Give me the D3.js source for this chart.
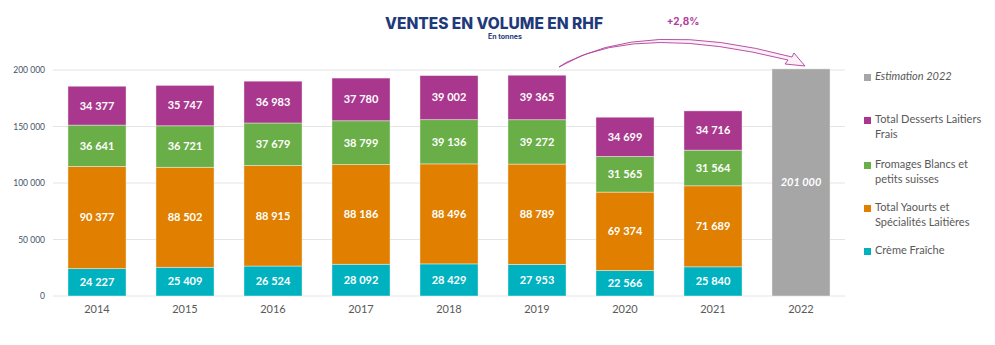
<!DOCTYPE html>
<html>
<head>
<meta charset="utf-8">
<script src="https://cdn.jsdelivr.net/npm/d3@7"></script>
<style>
  body { margin: 0; background: #fff; }
  text { font-family: Lato, "Open Sans", sans-serif; }
</style>
</head>
<body>
<script>
// data
var years = ["2014", "2015", "2016", "2017", "2018", "2019", "2020", "2021", "2022"];
var creme = [24227, 25409, 26524, 28092, 28429, 27953, 22566, 25840, 0];
var yaourts = [90377, 88502, 88915, 88186, 88496, 88789, 69374, 71689, 0];
var fromages = [36641, 36721, 37679, 38799, 39136, 39272, 31565, 31564, 0];
var desserts = [34377, 35747, 36983, 37780, 39002, 39365, 34699, 34716, 0];
var estimation = [0, 0, 0, 0, 0, 0, 0, 0, 201000];
var yTicks = [0, 50000, 100000, 150000, 200000];

var seriesKeys = ["creme", "yaourts", "fromages", "desserts", "estimation"];
var colors = {
  creme: "#00b2c0",
  yaourts: "#e07f00",
  fromages: "#6aae47",
  desserts: "#a8378d",
  estimation: "#a6a6a6"
};
var legendItems = [
  { key: "estimation", lines: ["Estimation 2022"], italic: true, y: 80 },
  { key: "desserts", lines: ["Total Desserts Laitiers", "Frais"], y: 123 },
  { key: "fromages", lines: ["Fromages Blancs et", "petits suisses"], y: 168 },
  { key: "yaourts", lines: ["Total Yaourts et", "Spécialités Laitières"], y: 211 },
  { key: "creme", lines: ["Crème Fraîche"], y: 254 }
];

var table = years.map(function(y, i) {
  return { year: y, creme: creme[i], yaourts: yaourts[i], fromages: fromages[i],
           desserts: desserts[i], estimation: estimation[i] };
});

var svgWidth = 995, svgHeight = 345;
var margin = { top: 70, left: 53, right: 150, bottom: 49 };

var svg = d3.select("body").append("svg")
  .attr("width", svgWidth)
  .attr("height", svgHeight);

var chartGroup = svg.append("g")
  .attr("transform", `translate(${margin.left}, ${margin.top})`);

var x = d3.scaleBand().domain(years).range([0, 792]).paddingInner(0.34).paddingOuter(0.17);
var y = d3.scaleLinear().domain([0, 200000]).range([226, 0]);

// gridlines
chartGroup.selectAll(".grid")
  .data(yTicks)
  .enter()
  .append("line")
  .attr("x1", 0)
  .attr("x2", 792)
  .attr("y1", d => y(d))
  .attr("y2", d => y(d))
  .attr("stroke", "#e4e4e4")
  .attr("stroke-width", 1);

// number format with space as thousands separator
var fmt = function(v) { return d3.format(",")(v).replace(/,/g, "\u00a0"); };

// y axis labels
var leftAxis = d3.axisLeft(y).tickValues(yTicks).tickSize(0).tickPadding(8).tickFormat(fmt);
var yAxisG = chartGroup.append("g").call(leftAxis);
yAxisG.select(".domain").remove();
yAxisG.selectAll("text")
  .attr("fill", "#44546a")
  .style("font-size", "8.5px");

// x axis labels
var bottomAxis = d3.axisBottom(x).tickSize(0).tickPadding(9);
var xAxisG = chartGroup.append("g").attr("transform", `translate(0, 226)`).call(bottomAxis);
xAxisG.select(".domain").remove();
xAxisG.selectAll("text")
  .attr("fill", "#595959")
  .style("font-size", "11px");

// stacked bars
var stacked = d3.stack().keys(seriesKeys)(table);

var layers = chartGroup.selectAll(".layer")
  .data(stacked)
  .enter()
  .append("g")
  .attr("class", "layer")
  .attr("fill", d => colors[d.key]);

layers.selectAll("rect")
  .data(d => d.filter(p => p[1] - p[0] > 0))
  .enter()
  .append("rect")
  .attr("x", d => x(d.data.year))
  .attr("y", d => y(d[1]))
  .attr("width", x.bandwidth())
  .attr("height", d => y(d[0]) - y(d[1]))
  .attr("stroke", "#ffffff")
  .attr("stroke-opacity", 0.5)
  .attr("stroke-width", 0.8);

layers.each(function(layer) {
  var isEst = layer.key === "estimation";
  d3.select(this).selectAll(".lbl")
    .data(layer.filter(p => p[1] - p[0] > 0))
    .enter()
    .append("text")
    .attr("x", d => x(d.data.year) + x.bandwidth() / 2)
    .attr("y", d => (y(d[0]) + y(d[1])) / 2)
    .attr("dy", "0.35em")
    .attr("text-anchor", "middle")
    .attr("fill", "#ffffff")
    .style("font-size", "11px")
    .style("font-weight", "bold")
    .style("font-style", isEst ? "italic" : "normal")
    .text(d => fmt(d[1] - d[0]));
});

// curved arrow from 2019 to 2022
var x0 = x("2019") + x.bandwidth() / 2 + 26;
var x1 = x("2022") + x.bandwidth() / 2 - 6;
var arrowPath = [
  `M${x0 - 4},-3`,
  `Q${x0 + 80},-53 ${x1 - 3},-13`,
  `L${x1 - 1},-17`,
  `L${x1 + 10},-4`,
  `L${x1 - 10},-6`,
  `L${x1 - 7},-10`,
  `Q${x0 + 80},-46 ${x0 + 4},-8`,
  "Z"
].join(" ");
chartGroup.append("path")
  .attr("d", arrowPath)
  .attr("fill", "#fcf0f8")
  .attr("stroke", "#b0409a")
  .attr("stroke-width", 0.9);

chartGroup.append("text")
  .attr("x", 630)
  .attr("y", -45)
  .attr("text-anchor", "middle")
  .attr("fill", "#b0409a")
  .style("font-family", "Inter, 'Open Sans', sans-serif")
  .style("font-size", "10px")
  .style("font-weight", "bold")
  .text("+2,8%");

// title
svg.append("text")
  .attr("x", 494)
  .attr("y", 29)
  .attr("text-anchor", "middle")
  .attr("fill", "#1f3a7a")
  .style("font-family", "Inter, 'Open Sans', sans-serif")
  .style("font-size", "15.5px")
  .style("font-weight", "800")
  .text("VENTES EN VOLUME EN RHF");

svg.append("text")
  .attr("x", 505)
  .attr("y", 39)
  .attr("text-anchor", "middle")
  .attr("fill", "#1f3a7a")
  .style("font-family", "Inter, 'Open Sans', sans-serif")
  .style("font-size", "7px")
  .style("font-weight", "bold")
  .text("En tonnes");

// legend
var legend = svg.append("g");
legendItems.forEach(function(item) {
  legend.append("rect")
    .attr("x", 864)
    .attr("y", item.y - 6)
    .attr("width", 7)
    .attr("height", 7)
    .attr("fill", colors[item.key]);
  var t = legend.append("text")
    .attr("x", 875)
    .attr("y", item.y)
    .attr("fill", "#595959")
    .style("font-size", "11px")
    .style("font-style", item.italic ? "italic" : "normal");
  item.lines.forEach(function(line, i) {
    t.append("tspan")
      .attr("x", 875)
      .attr("dy", i === 0 ? 0 : 15)
      .text(line);
  });
});
</script>
</body>
</html>
